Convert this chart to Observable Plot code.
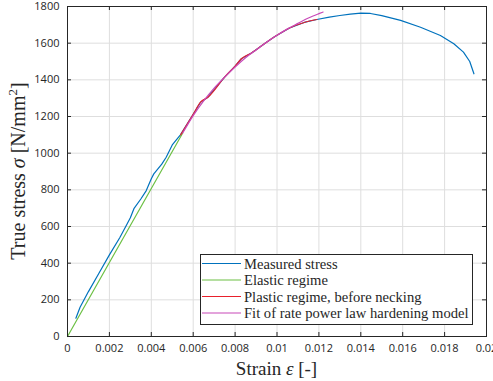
<!DOCTYPE html>
<html>
<head>
<meta charset="utf-8">
<script src="https://cdn.jsdelivr.net/npm/d3@7"></script>
<script src="https://cdn.jsdelivr.net/npm/@observablehq/plot@0.6"></script>
<style>
  html, body { margin: 0; padding: 0; background: white; }
</style>
</head>
<body>
<div id="chart"></div>
<script>
// ---- Data ----
const xTicks = [0, 0.002, 0.004, 0.006, 0.008, 0.01, 0.012, 0.014, 0.016, 0.018, 0.02];
const xTickLabels = ["0", "0.002", "0.004", "0.006", "0.008", "0.01", "0.012", "0.014", "0.016", "0.018", "0.02"];
const yTicks = [0, 200, 400, 600, 800, 1000, 1200, 1400, 1600, 1800];

const measuredStrain = [0.0004, 0.0006, 0.0010, 0.0015, 0.0020, 0.0025, 0.00285, 0.0030, 0.00317, 0.0035, 0.00376, 0.0040, 0.00412, 0.0045, 0.00471, 0.0050, 0.00539, 0.0060, 0.00635, 0.0067, 0.0075, 0.0080, 0.0083, 0.0088, 0.0095, 0.0099, 0.0106, 0.0113, 0.0119, 0.0125, 0.0130, 0.0135, 0.0140, 0.01446, 0.0150, 0.0159, 0.01685, 0.0178, 0.01844, 0.0189, 0.0192, 0.0194];
const measuredStress = [100, 160, 245, 345, 445, 540, 615, 648, 697, 750, 796, 860, 887, 940, 978, 1045, 1100, 1212, 1278, 1305, 1415, 1475, 1515, 1548, 1605, 1636, 1683, 1713, 1729, 1742, 1751, 1758, 1764, 1762, 1750, 1724, 1687, 1642, 1597, 1551, 1500, 1433];

const elasticStrain = [0, 0.0055];
const elasticStress = [0, 1110];

const plasticStrain = [0.0054, 0.0060, 0.00635, 0.0067, 0.0075, 0.0080, 0.0083, 0.0088, 0.0095, 0.0099, 0.0106, 0.0113, 0.0119];
const plasticStress = [1100, 1212, 1278, 1305, 1415, 1475, 1515, 1548, 1605, 1636, 1683, 1713, 1729];

const fitStrain = [0.0055, 0.0060, 0.0065, 0.0070, 0.0075, 0.0080, 0.0085, 0.0090, 0.0095, 0.0100, 0.0105, 0.0110, 0.0115, 0.0120, 0.0122];
const fitStress = [1110, 1205, 1285, 1355, 1415, 1470, 1520, 1563, 1605, 1643, 1678, 1708, 1737, 1761, 1770];

const seriesNames = ["Measured stress", "Elastic regime", "Plastic regime, before necking", "Fit of rate power law hardening model"];
const seriesColors = ["#0072BD", "#6cc044", "#e8202c", "#c848b8"];

const toRows = (xs, ys) => xs.map((x, i) => ({x, y: ys[i]}));
const measured = toRows(measuredStrain, measuredStress);
const elastic = toRows(elasticStrain, elasticStress);
const plastic = toRows(plasticStrain, plasticStress);
const fit = toRows(fitStrain, fitStress);

const W = 493, H = 381;
const mL = 67, mR = 7, mT = 6, mB = 45;
const innerW = W - mL - mR, innerH = H - mT - mB;
const tickLen = 4;
const axisColor = "#262626";

const svg = Plot.plot({
  width: W,
  height: H,
  marginLeft: mL,
  marginRight: mR,
  marginTop: mT,
  marginBottom: mB,
  x: {domain: [0, 0.02]},
  y: {domain: [0, 1800]},
  style: {fontFamily: "'Open Sans', sans-serif", fontSize: "11px", color: axisColor, background: "white", overflow: "visible"},
  marks: [
    Plot.gridX(xTicks, {stroke: "#dedede", strokeOpacity: 1}),
    Plot.gridY(yTicks, {stroke: "#dedede", strokeOpacity: 1}),
    Plot.line(measured, {x: "x", y: "y", stroke: seriesColors[0], strokeWidth: 1.2}),
    Plot.line(elastic, {x: "x", y: "y", stroke: seriesColors[1], strokeWidth: 1.2}),
    Plot.line(plastic, {x: "x", y: "y", stroke: seriesColors[2], strokeWidth: 1.2, curve: "monotone-x"}),
    Plot.line(fit, {x: "x", y: "y", stroke: seriesColors[3], strokeWidth: 1.2, curve: "monotone-x"}),
    // inward ticks on all four sides
    Plot.ruleX(xTicks, {x: d => d, insetTop: innerH - tickLen, stroke: axisColor}),
    Plot.ruleX(xTicks, {x: d => d, insetBottom: innerH - tickLen, stroke: axisColor}),
    Plot.ruleY(yTicks, {y: d => d, insetRight: innerW - tickLen, stroke: axisColor}),
    Plot.ruleY(yTicks, {y: d => d, insetLeft: innerW - tickLen, stroke: axisColor}),
    Plot.axisX({ticks: xTicks, tickSize: 0, tickPadding: 8, tickFormat: d => xTickLabels[xTicks.indexOf(d)], label: null}),
    Plot.axisY({ticks: yTicks, tickSize: 0, tickPadding: 8, tickFormat: d => String(d), label: null}),
    Plot.frame({stroke: axisColor, strokeWidth: 1})
  ]
});

const root = d3.select(svg);
const serif = "'Liberation Serif', 'Times New Roman', serif";

// X label
const xl = root.append("text")
  .attr("x", mL + innerW / 2)
  .attr("y", 375)
  .attr("text-anchor", "middle")
  .attr("font-family", serif)
  .attr("font-size", 19)
  .attr("fill", axisColor);
xl.append("tspan").text("Strain ");
xl.append("tspan").attr("font-style", "italic").text("ε");
xl.append("tspan").text(" [-]");

// Y label
const yl = root.append("text")
  .attr("transform", `translate(25,${mT + innerH / 2}) rotate(-90)`)
  .attr("text-anchor", "middle")
  .attr("font-family", serif)
  .attr("font-size", 20)
  .attr("fill", axisColor);
yl.append("tspan").text("True stress ");
yl.append("tspan").attr("font-style", "italic").text("σ");
yl.append("tspan").text(" [N/mm");
yl.append("tspan").attr("font-size", 13).attr("dy", -8).text("2");
yl.append("tspan").attr("dy", 8).text("]");

// Legend
const lx = 200.5, ly = 254.5, lw = 272, lh = 70;
const lg = root.append("g").attr("text-anchor", "start");
lg.append("rect").attr("x", lx).attr("y", ly).attr("width", lw).attr("height", lh)
  .attr("fill", "white").attr("stroke", axisColor).attr("stroke-width", 1);
const rowY = [263.5, 280, 296.5, 313];
seriesNames.forEach((name, i) => {
  lg.append("line").attr("x1", 202).attr("x2", 241).attr("y1", rowY[i]).attr("y2", rowY[i])
    .attr("stroke", seriesColors[i]).attr("stroke-width", 1.2);
  lg.append("text").attr("x", 244).attr("y", rowY[i]).attr("dy", "0.35em")
    .attr("text-anchor", "start")
    .attr("font-family", serif).attr("font-size", 14.6).attr("fill", axisColor).text(name);
});

document.getElementById("chart").appendChild(svg);
</script>
</body>
</html>
